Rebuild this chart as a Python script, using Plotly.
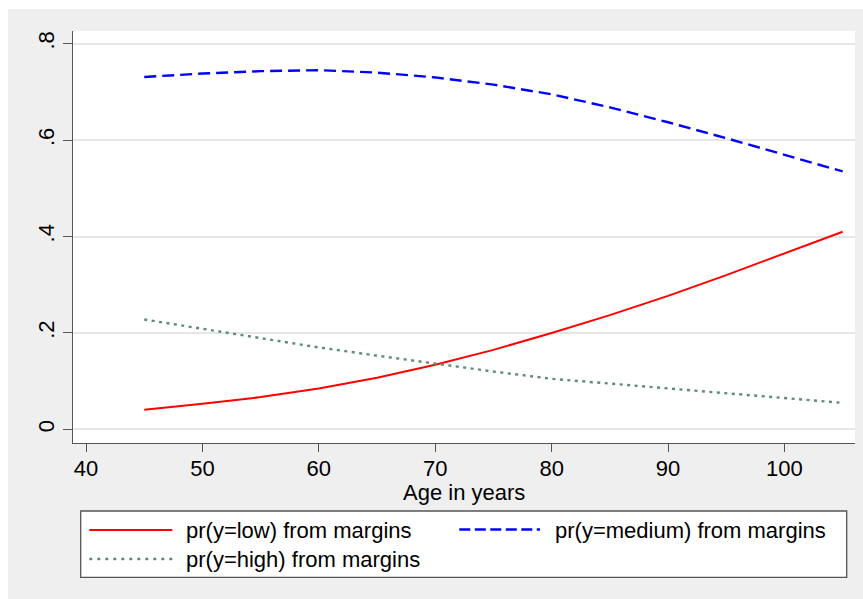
import plotly.graph_objects as go

# ---- data ----
age = [45, 50, 55, 60, 65, 70, 75, 80, 85, 90, 95, 100, 105]
pr_low = [0.041, 0.053, 0.067, 0.085, 0.107, 0.134, 0.165, 0.200, 0.237, 0.277, 0.320, 0.365, 0.410]
pr_medium = [0.731, 0.738, 0.743, 0.745, 0.740, 0.730, 0.715, 0.695, 0.668, 0.637, 0.604, 0.570, 0.535]
pr_high = [0.228, 0.209, 0.190, 0.170, 0.153, 0.136, 0.120, 0.105, 0.095, 0.086, 0.076, 0.065, 0.055]

x_tickvals = [40, 50, 60, 70, 80, 90, 100]
y_tickvals = [0, 0.2, 0.4, 0.6, 0.8]
y_ticktext = ["0", ".2", ".4", ".6", ".8"]
x_title = "Age in years"
labels = ["pr(y=low) from margins", "pr(y=medium) from margins", "pr(y=high) from margins"]

# ---- styling ----
W, H = 863, 599
L, R, T, B = 73, 8, 31, 156
PW, PH = W - L - R, H - T - B
FONT = "Arial, Liberation Sans, sans-serif"
FS = 22
TXT = "#000000"
C_LOW, C_MED, C_HIGH = "#ff0000", "#0000ff", "#5f8a7a"
D_MED, D_HIGH = "12px,6px", "3px,4.5px"


def px(x):
    return (x - L) / PW


def py(y):
    return (H - B - y) / PH


fig = go.Figure()
fig.add_trace(go.Scatter(x=age, y=pr_low, mode="lines", name=labels[0],
                         line=dict(color=C_LOW, width=2), showlegend=False))
fig.add_trace(go.Scatter(x=age, y=pr_medium, mode="lines", name=labels[1],
                         line=dict(color=C_MED, width=2.4, dash=D_MED), showlegend=False))
fig.add_trace(go.Scatter(x=age, y=pr_high, mode="lines", name=labels[2],
                         line=dict(color=C_HIGH, width=2.4, dash=D_HIGH), showlegend=False))

shapes = [
    # white strips at top and left of the image
    dict(type="rect", xref="paper", yref="paper", x0=px(0), x1=px(8), y0=py(H), y1=py(0),
         fillcolor="white", line=dict(width=0), layer="below"),
    dict(type="rect", xref="paper", yref="paper", x0=px(0), x1=px(W), y0=py(9), y1=py(0),
         fillcolor="white", line=dict(width=0), layer="below"),
    # legend box
    dict(type="rect", xref="paper", yref="paper", x0=px(80.7), x1=px(846.7), y0=py(577.3), y1=py(511),
         fillcolor="white", line=dict(color="#555555", width=1.3)),
    # legend samples
    dict(type="line", xref="paper", yref="paper", x0=px(89.3), x1=px(172.3), y0=py(530), y1=py(530),
         line=dict(color=C_LOW, width=2)),
    dict(type="line", xref="paper", yref="paper", x0=px(459.3), x1=px(540), y0=py(529.5), y1=py(529.5),
         line=dict(color=C_MED, width=2.4, dash="11px,4.5px")),
    dict(type="line", xref="paper", yref="paper", x0=px(89.3), x1=px(172.3), y0=py(559), y1=py(559),
         line=dict(color=C_HIGH, width=2.4, dash="3px,5px")),
]

annotations = [
    dict(xref="paper", yref="paper", x=0.5, y=py(492), text=x_title, showarrow=False,
         xanchor="center", yanchor="middle", borderpad=0,
         font=dict(family=FONT, size=FS, color=TXT)),
    dict(xref="paper", yref="paper", x=px(184), y=py(530), text=labels[0], showarrow=False,
         xanchor="left", yanchor="middle", font=dict(family=FONT, size=FS, color=TXT)),
    dict(xref="paper", yref="paper", x=px(553), y=py(530), text=labels[1], showarrow=False,
         xanchor="left", yanchor="middle", font=dict(family=FONT, size=FS, color=TXT)),
    dict(xref="paper", yref="paper", x=px(184), y=py(559), text=labels[2], showarrow=False,
         xanchor="left", yanchor="middle", font=dict(family=FONT, size=FS, color=TXT)),
]

fig.update_layout(
    width=W, height=H,
    margin=dict(l=L, r=R, t=T, b=B, pad=0),
    paper_bgcolor="#efefef",
    plot_bgcolor="white",
    font=dict(family=FONT, size=FS, color=TXT),
    showlegend=False,
    shapes=shapes,
    annotations=annotations,
    xaxis=dict(
        range=[38.88, 106.06], tickvals=x_tickvals, ticks="outside", ticklen=8, tickwidth=1,
        tickcolor="#555555", showline=True, linecolor="#555555", linewidth=1,
        showgrid=False, zeroline=False, ticklabelstandoff=-2,
        tickfont=dict(family=FONT, size=FS, color=TXT),
    ),
    yaxis=dict(
        range=[-0.0282, 0.8263], tickvals=y_tickvals, ticktext=y_ticktext, ticks="outside",
        ticklen=9, tickwidth=1, tickcolor="#555555", showline=True, linecolor="#555555",
        linewidth=1, showgrid=True, gridcolor="#e6e6e6", gridwidth=2, zeroline=False,
        tickangle=-90, tickfont=dict(family=FONT, size=FS, color=TXT),
    ),
)

fig.write_html("out.html")
